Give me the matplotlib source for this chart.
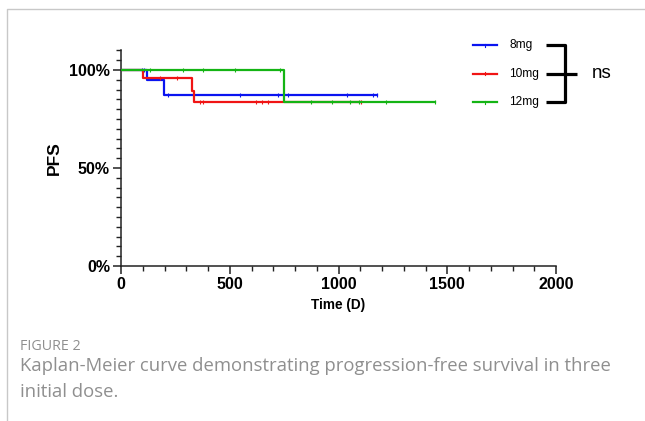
import numpy as np
import matplotlib.pyplot as plt
from matplotlib.lines import Line2D
from matplotlib.ticker import MultipleLocator, FuncFormatter

# Kaplan-Meier steps (time in days, survival fraction)
groups = ['8mg', '10mg', '12mg']
colors = ['#0a14f0', '#f01414', '#14b414']

times_8 = [0, 118, 198, 1175]
surv_8 = [1.0, 0.949, 0.871, 0.871]
cens_8 = [95, 105, 216, 547, 722, 768, 1038, 1157, 1175]

times_10 = [0, 103, 328, 337, 1103]
surv_10 = [1.0, 0.957, 0.894, 0.835, 0.835]
cens_10 = [179, 256, 363, 377, 620, 647, 676, 1103]

times_12 = [0, 751, 1444]
surv_12 = [1.0, 0.838, 0.838]
cens_12 = [133, 284, 376, 524, 731, 873, 969, 1053, 1095, 1218, 1444]

caption_head = 'FIGURE 2'
caption_lines = ['Kaplan-Meier curve demonstrating progression-free survival in three',
                 'initial dose.']

W, H = 645, 421
fig = plt.figure(figsize=(W / 100, H / 100), dpi=100)
ax = fig.add_axes([121 / W, 1 - 266 / H, (556 - 121) / W, (266 - 50.4) / H])

def surv_at(t, times, surv):
    idx = np.searchsorted(times, t, side='right') - 1
    return np.array(surv)[idx]

data = [(times_8, surv_8, cens_8), (times_10, surv_10, cens_10), (times_12, surv_12, cens_12)]
for (tt, ss, cc), col in zip(data, colors):
    ax.step(tt, ss, where='post', color=col, lw=1.6, zorder=3)
    ax.plot(cc, surv_at(cc, tt, ss), ls='none', marker='|', ms=3.5, mew=0.8, color=col, zorder=3)

ax.set_xlim(0, 2000)
ax.set_ylim(0, 1.1)
ax.xaxis.set_major_locator(MultipleLocator(500))
ax.xaxis.set_minor_locator(MultipleLocator(100))
ax.set_yticks([0, 0.5, 1.0])
ax.yaxis.set_minor_locator(MultipleLocator(0.05))
ax.yaxis.set_major_formatter(FuncFormatter(lambda v, p: f'{v * 100:.0f}%'))
for s in ['top', 'right']:
    ax.spines[s].set_visible(False)
for s in ['left', 'bottom']:
    ax.spines[s].set_linewidth(1.1)
    ax.spines[s].set_color('#222222')
ax.tick_params(which='major', length=6, width=1.1, color='#222222', labelsize=11.5, pad=2)
ax.tick_params(which='minor', length=3.5, width=1.0, color='#222222')
for lab in ax.get_xticklabels() + ax.get_yticklabels():
    lab.set_fontfamily('Liberation Sans')
    lab.set_fontweight('bold')
ax.set_xlabel('Time (D)', fontfamily='Liberation Sans', fontweight='bold', fontsize=9.8, labelpad=4)
ax.set_ylabel('PFS', fontfamily='Liberation Sans', fontweight='bold', fontsize=12.5, labelpad=5.5)

# legend drawn by hand
def fx(x):
    return x / W

def fy(y):
    return 1 - y / H

leg_y = [45, 73.5, 102]
for name, col, y in zip(groups, colors, leg_y):
    fig.add_artist(Line2D([fx(473), fx(497)], [fy(y), fy(y)], color=col, lw=1.6))
    fig.add_artist(Line2D([fx(485), fx(485)], [fy(y - 1.5), fy(y + 1.5)], color=col, lw=0.8))
    fig.text(fx(509), fy(y), name, fontfamily='Liberation Sans', fontsize=8.6, va='center', ha='left')

bk = dict(color='black', lw=2.3, solid_capstyle='butt')
fig.add_artist(Line2D([fx(546), fx(565), fx(565), fx(546)],
                      [fy(leg_y[0]), fy(leg_y[0]), fy(leg_y[2]), fy(leg_y[2])], **bk))
fig.add_artist(Line2D([fx(546), fx(577)], [fy(leg_y[1]), fy(leg_y[1])], **bk))
fig.text(fx(592), fy(leg_y[1]), 'ns', fontfamily='Liberation Sans', fontsize=13.5, va='center', ha='left')

# frame lines of the figure panel
fig.add_artist(Line2D([fx(7), fx(7), 1], [0, fy(9), fy(9)], color='#c8c8c8', lw=1.0))

fig.text(fx(20), fy(347), caption_head, fontfamily='Open Sans', fontsize=10.3, color='#8f8f8f', va='center')
for i, line in enumerate(caption_lines):
    fig.text(fx(20), fy(366 + 26 * i), line, fontfamily='Open Sans', fontsize=13.3,
             color='#8f8f8f', va='center')

fig.savefig('out.png', dpi=100)
